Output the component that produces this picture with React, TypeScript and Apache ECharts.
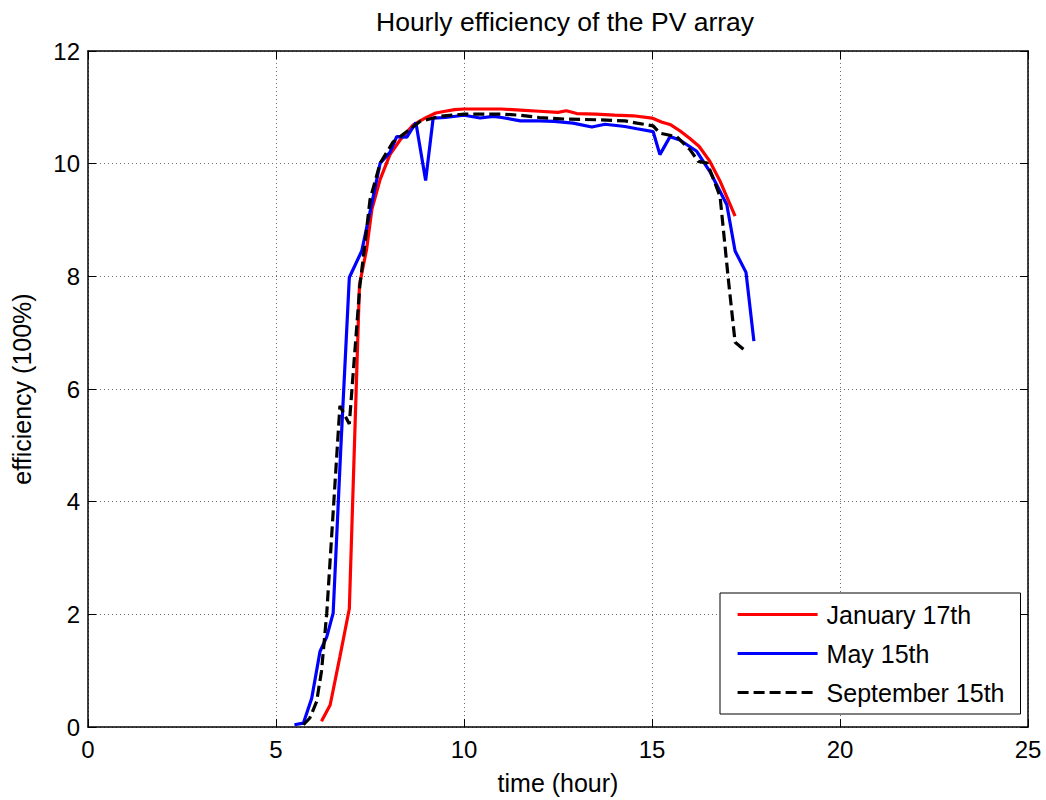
import React, { useEffect, useRef } from "react";
import * as echarts from "echarts";

const TITLE = "Hourly efficiency of the PV array";
const X_NAME = "time (hour)";
const Y_NAME = "efficiency (100%)";
const SERIES_NAMES = ["January 17th", "May 15th", "September 15th"];

const janHours = [6.21, 6.44, 6.7, 6.95, 7.22, 7.41, 7.55, 7.77, 8.03, 8.3, 8.65, 9.0, 9.25, 9.5, 9.75, 10.0, 10.5, 11.0, 11.5, 12.0, 12.5, 12.72, 13.0, 13.5, 14.0, 14.5, 15.0, 15.25, 15.5, 15.75, 16.0, 16.25, 16.54, 16.81, 17.21];
const janEff = [0.10, 0.39, 1.25, 2.1, 7.85, 8.48, 9.19, 9.72, 10.16, 10.42, 10.69, 10.82, 10.9, 10.93, 10.96, 10.97, 10.97, 10.97, 10.95, 10.93, 10.91, 10.94, 10.89, 10.88, 10.86, 10.85, 10.81, 10.74, 10.69, 10.58, 10.45, 10.31, 10.04, 9.69, 9.07];

const mayHours = [5.49, 5.73, 5.95, 6.17, 6.35, 6.52, 6.72, 6.95, 7.28, 7.55, 7.77, 8.03, 8.21, 8.48, 8.72, 8.98, 9.18, 9.5, 10.0, 10.43, 10.78, 11.0, 11.5, 12.0, 12.4, 12.9, 13.4, 13.75, 14.28, 14.6, 15.03, 15.21, 15.48, 15.74, 16.19, 16.54, 16.99, 17.21, 17.5, 17.71];
const mayEff = [0.04, 0.07, 0.51, 1.34, 1.6, 2.02, 4.9, 7.98, 8.45, 9.3, 10.01, 10.2, 10.48, 10.47, 10.73, 9.70, 10.81, 10.82, 10.86, 10.81, 10.84, 10.82, 10.76, 10.76, 10.75, 10.72, 10.65, 10.7, 10.66, 10.62, 10.57, 10.16, 10.48, 10.42, 10.22, 9.86, 9.27, 8.45, 8.07, 6.85];

const sepHours = [5.73, 5.9, 6.08, 6.21, 6.35, 6.7, 6.95, 7.23, 7.37, 7.5, 7.77, 8.12, 8.48, 8.83, 9.36, 10.0, 10.5, 11.0, 11.5, 12.0, 12.72, 13.5, 14.28, 14.6, 15.03, 15.21, 15.66, 16.01, 16.23, 16.47, 16.81, 17.03, 17.21, 17.48];
const sepEff = [0.04, 0.16, 0.45, 0.99, 2.02, 5.70, 5.38, 7.83, 8.6, 9.36, 10.01, 10.39, 10.57, 10.75, 10.84, 10.88, 10.88, 10.88, 10.86, 10.82, 10.79, 10.78, 10.76, 10.72, 10.67, 10.54, 10.48, 10.25, 10.04, 10.01, 9.42, 7.95, 6.83, 6.68];

const FONT = "'Liberation Sans', Arial, sans-serif";

const zip = (xs: number[], ys: number[]) => xs.map((x, i) => [x, ys[i]]);

export default function App() {
  const ref = useRef<HTMLDivElement>(null);
  useEffect(() => {
    if (!ref.current) return;
    const chart = echarts.init(ref.current, undefined, { renderer: "svg" });
    const gridLine = { show: true, lineStyle: { color: "#6e6e6e", type: [1, 3] as any, width: 1 } };
    const axisLine = { show: true, onZero: false, lineStyle: { color: "#000", width: 1.5 } };
    const axisTick = { show: true, inside: true, length: 8, lineStyle: { color: "#000", width: 1 } };
    chart.setOption({
      animation: false,
      backgroundColor: "#fff",
      textStyle: { fontFamily: FONT },
      title: {
        text: TITLE,
        left: 371,
        top: 3,
        textStyle: { fontFamily: FONT, fontSize: 26.5, fontWeight: "normal", color: "#000" },
      },
      grid: { left: 88, right: 18, top: 51, bottom: 71, containLabel: false },
      legend: {
        orient: "vertical",
        left: 720,
        top: 593,
        padding: [9, 16, 9, 16],
        itemGap: 14,
        itemWidth: 80,
        itemHeight: 14,
        backgroundColor: "#fff",
        borderColor: "#000",
        borderWidth: 1,
        itemStyle: { opacity: 0 },
        lineStyle: { width: 3.2 },
        textStyle: { fontFamily: FONT, fontSize: 25, color: "#000", lineHeight: 24, padding: [0, 0, 0, 4] },
        data: SERIES_NAMES,
        z: 10,
      },
      xAxis: [
        {
          type: "value",
          min: 0,
          max: 25,
          interval: 5,
          position: "bottom",
          name: X_NAME,
          nameLocation: "middle",
          nameGap: 43,
          nameTextStyle: { fontFamily: FONT, fontSize: 25, color: "#000" },
          axisLine,
          axisTick,
          axisLabel: { fontFamily: FONT, fontSize: 24, color: "#000", margin: 10 },
          splitLine: gridLine,
        },
        {
          type: "value",
          min: 0,
          max: 25,
          interval: 5,
          position: "top",
          axisLine,
          axisTick,
          axisLabel: { show: false },
          splitLine: { show: false },
        },
      ],
      yAxis: [
        {
          type: "value",
          min: 0,
          max: 12,
          interval: 2,
          position: "left",
          name: Y_NAME,
          nameLocation: "middle",
          nameGap: 54,
          nameTextStyle: { fontFamily: FONT, fontSize: 25, color: "#000" },
          axisLine,
          axisTick,
          axisLabel: { fontFamily: FONT, fontSize: 24, color: "#000", margin: 8 },
          splitLine: gridLine,
        },
        {
          type: "value",
          min: 0,
          max: 12,
          interval: 2,
          position: "right",
          axisLine,
          axisTick,
          axisLabel: { show: false },
          splitLine: { show: false },
        },
      ],
      series: [
        {
          name: SERIES_NAMES[0],
          type: "line",
          data: zip(janHours, janEff),
          symbol: "none",
          lineStyle: { color: "#ff0000", width: 3.2 },
          itemStyle: { color: "#ff0000" },
          z: 3,
        },
        {
          name: SERIES_NAMES[1],
          type: "line",
          data: zip(mayHours, mayEff),
          symbol: "none",
          lineStyle: { color: "#0000ff", width: 3.2 },
          itemStyle: { color: "#0000ff" },
          z: 4,
        },
        {
          name: SERIES_NAMES[2],
          type: "line",
          data: zip(sepHours, sepEff),
          symbol: "none",
          lineStyle: { color: "#000", width: 3.2, type: [11, 5] as any },
          itemStyle: { color: "#000" },
          z: 5,
        },
      ],
    });
    return () => chart.dispose();
  }, []);
  return (
    <div
      ref={ref}
      style={{ position: "absolute", left: 0, top: 0, width: 1046, height: 800, background: "#fff" }}
    />
  );
}
